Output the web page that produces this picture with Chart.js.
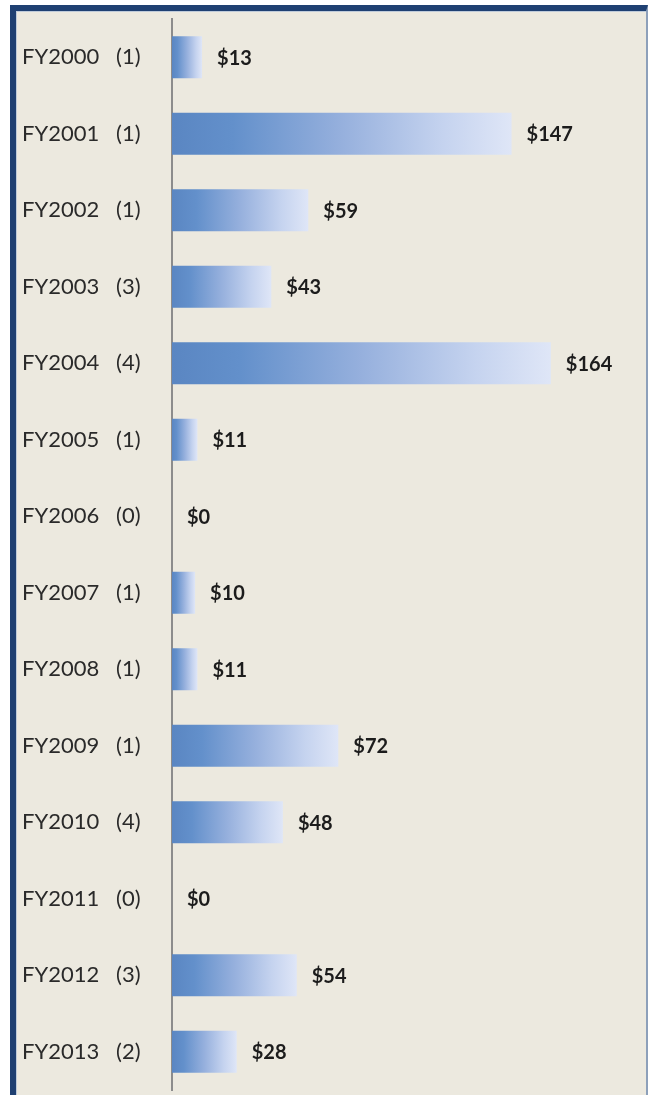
<!DOCTYPE html>
<html>
<head>
<meta charset="utf-8">
<script src="https://cdn.jsdelivr.net/npm/chart.js@4/dist/chart.umd.min.js"></script>
<style>
  html, body { margin: 0; padding: 0; background: #ffffff; }
  body { width: 651px; height: 1095px; position: relative; overflow: hidden; }
  #frame {
    position: absolute; left: 10px; top: 5px; width: 630px; height: 1100px;
    background: #ECE9DF;
    border-left: 6px solid #1F4072;
    border-top: 6px solid #1F4072;
    border-right: 2px solid #8DA0BA;
    box-shadow: inset 1px 1px 0 #BFCBDA;
  }
  #wrap { position: absolute; left: 0; top: 0; width: 651px; height: 1095px; }
</style>
</head>
<body>
<div id="frame"></div>
<div id="wrap"><canvas id="c" width="651" height="1095"></canvas></div>
<script>
const categories = ['FY2000','FY2001','FY2002','FY2003','FY2004','FY2005','FY2006','FY2007','FY2008','FY2009','FY2010','FY2011','FY2012','FY2013'];
const counts = [1, 1, 1, 3, 4, 1, 0, 1, 1, 1, 4, 0, 3, 2];
const values = [13, 147, 59, 43, 164, 11, 0, 10, 11, 72, 48, 0, 54, 28];
const valueLabels = ['$13','$147','$59','$43','$164','$11','$0','$10','$11','$72','$48','$0','$54','$28'];

const labels = categories.map((c, i) => c + '   (' + counts[i] + ')');

function barFill(ctx) {
  const chart = ctx.chart;
  if (!chart.chartArea || ctx.type !== 'data') return '#6A95CD';
  const xs = chart.scales.x;
  const x0 = xs.getPixelForValue(0);
  const x1 = xs.getPixelForValue(ctx.raw);
  if (x1 - x0 < 1) return '#6A95CD';
  const g = chart.ctx.createLinearGradient(x0, 0, x1, 0);
  g.addColorStop(0, '#5A86C2');
  g.addColorStop(0.18, '#6390CB');
  g.addColorStop(0.5, '#96B0DD');
  g.addColorStop(0.8, '#C5D3EF');
  g.addColorStop(1, '#DFE6F7');
  return g;
}

const valueLabelPlugin = {
  id: 'valueLabels',
  afterDatasetsDraw(chart) {
    const ctx = chart.ctx;
    const meta = chart.getDatasetMeta(0);
    ctx.save();
    ctx.font = 'bold 20px Lato, "Open Sans", sans-serif';
    ctx.fillStyle = '#1C1C1C';
    ctx.textAlign = 'left';
    ctx.textBaseline = 'middle';
    meta.data.forEach((bar, i) => {
      ctx.fillText(valueLabels[i], bar.x + 15, bar.y + 1);
    });
    ctx.restore();
  }
};

new Chart(document.getElementById('c'), {
  type: 'bar',
  data: {
    labels: labels,
    datasets: [{
      data: values,
      backgroundColor: barFill,
      borderWidth: 0,
      categoryPercentage: 1,
      barPercentage: 0.55
    }]
  },
  options: {
    indexAxis: 'y',
    responsive: false,
    animation: false,
    events: [],
    layout: { padding: { left: 22, right: 17, top: 19, bottom: 5 } },
    plugins: { legend: { display: false }, tooltip: { enabled: false } },
    scales: {
      x: { display: false, min: 0, max: 200 },
      y: {
        grid: { display: false },
        border: { display: true, color: '#8C8C8C', width: 2 },
        ticks: {
          crossAlign: 'far',
          padding: 8,
          color: '#2A2A2A',
          font: { family: 'Lato, "Open Sans", sans-serif', size: 22 }
        },
        afterFit(scale) { scale.width = 150; scale.paddingTop = 0; scale.paddingBottom = 0; }
      }
    }
  },
  plugins: [valueLabelPlugin]
});
</script>
</body>
</html>
